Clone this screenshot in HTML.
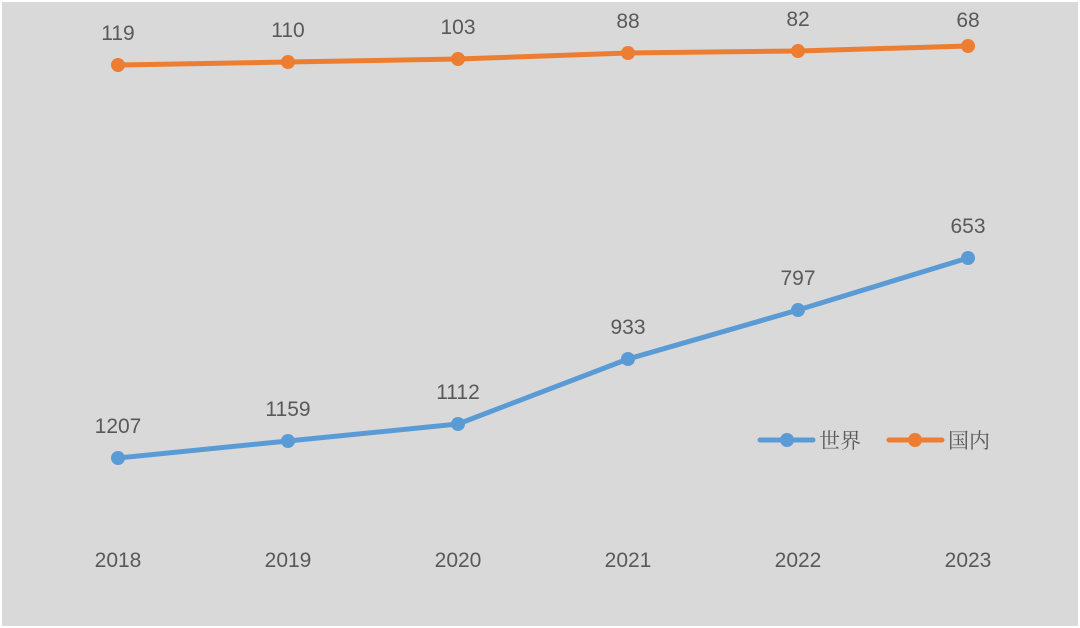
<!DOCTYPE html>
<html><head><meta charset="utf-8"><style>
html,body{margin:0;padding:0;background:#fff}
svg{display:block}
text{font-family:"Liberation Sans","Noto Sans CJK SC",sans-serif;fill:#595959;font-size:21px}
</style></head><body>
<svg width="1080" height="628" viewBox="0 0 1080 628">
<rect x="2" y="2" width="1076" height="624" fill="#d9d9d9"/>
<g fill="none" stroke-width="5" stroke-linecap="round" stroke-linejoin="round">
<polyline stroke="#ed7d31" points="118,65 288,62 458,59 628,53 798,51 968,46"/>
<polyline stroke="#5b9bd5" points="118,458 288,441 458,424 628,359 798,310 968,258"/>
</g>
<g fill="#ed7d31">
<circle cx="118" cy="65" r="7"/><circle cx="288" cy="62" r="7"/><circle cx="458" cy="59" r="7"/><circle cx="628" cy="53" r="7"/><circle cx="798" cy="51" r="7"/><circle cx="968" cy="46" r="7"/>
</g>
<g fill="#5b9bd5">
<circle cx="118" cy="458" r="7"/><circle cx="288" cy="441" r="7"/><circle cx="458" cy="424" r="7"/><circle cx="628" cy="359" r="7"/><circle cx="798" cy="310" r="7"/><circle cx="968" cy="258" r="7"/>
</g>
<g text-anchor="middle">
<text x="118" y="40">119</text><text x="288" y="37">110</text><text x="458" y="34">103</text><text x="628" y="28">88</text><text x="798" y="26">82</text><text x="968" y="27">68</text>
<text x="118" y="433">1207</text><text x="288" y="416">1159</text><text x="458" y="399">1112</text><text x="628" y="334">933</text><text x="798" y="285">797</text><text x="968" y="233">653</text>
<text x="118" y="567">2018</text><text x="288" y="567">2019</text><text x="458" y="567">2020</text><text x="628" y="567">2021</text><text x="798" y="567">2022</text><text x="968" y="567">2023</text>
</g>
<g stroke-width="5" stroke-linecap="round">
<line x1="760" y1="440" x2="813" y2="440" stroke="#5b9bd5"/>
<line x1="889" y1="440" x2="942" y2="440" stroke="#ed7d31"/>
</g>
<circle cx="787" cy="440" r="7" fill="#5b9bd5"/>
<circle cx="915" cy="440" r="7" fill="#ed7d31"/>
<text x="819" y="448" style="font-family:'Noto Serif CJK SC',serif;font-size:21px">世界</text>
<text x="948" y="448" style="font-family:'Noto Serif CJK SC',serif;font-size:21px">国内</text>
</svg>
</body></html>
